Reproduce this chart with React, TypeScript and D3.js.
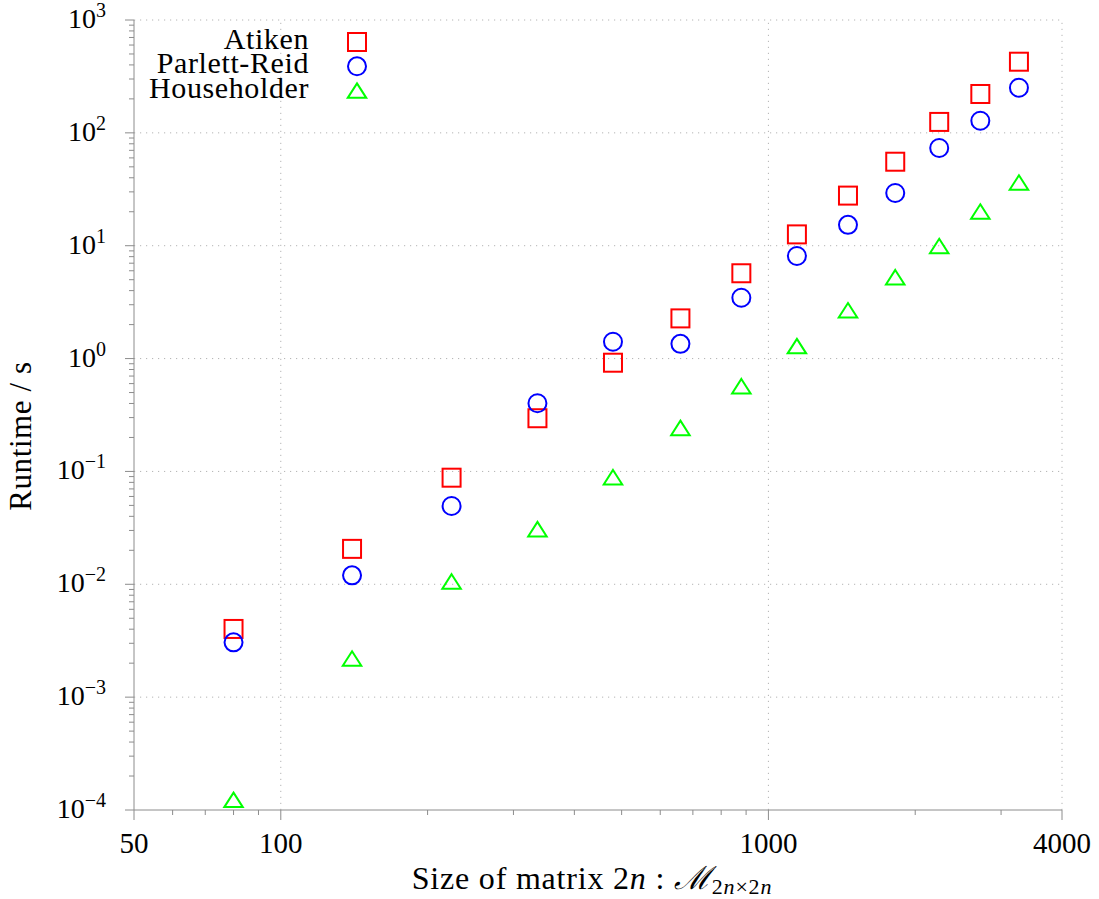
import React from "react";
import * as d3 from "d3";

const sizes = [80, 140, 224, 336, 480, 660, 880, 1144, 1456, 1820, 2240, 2720, 3264];
const atiken = [0.00402, 0.0206, 0.088, 0.296, 0.919, 2.27, 5.70, 12.6, 27.8, 55.5, 125, 221, 427];
const parlettReid = [0.00306, 0.0120, 0.0494, 0.402, 1.41, 1.35, 3.46, 8.11, 15.3, 29.3, 73.4, 128, 251];
const householder = [0.000123, 0.00220, 0.0106, 0.0308, 0.0889, 0.243, 0.569, 1.29, 2.68, 5.26, 9.94, 20.1, 36.3];

const xMajorTicks = [50, 100, 1000, 4000];
const xMinorTicks = [60, 70, 80, 90, 200, 300, 400, 500, 600, 700, 800, 900, 2000, 3000];
const yExponents = [-4, -3, -2, -1, 0, 1, 2, 3];

const seriesNames = ["Atiken", "Parlett-Reid", "Householder"];
const seriesColors = ["#ff0000", "#0000ff", "#00ff00"];
const seriesShapes = ["square", "circle", "triangle"];
const seriesValues = [atiken, parlettReid, householder];

const FONT = "'Liberation Serif', 'Times New Roman', serif";
const AXIS = "#8c8c8c";
const GRID = "#b4b4b4";

function Marker({ shape, cx, cy, color }: { shape: string; cx: number; cy: number; color: string }) {
  const sw = 2;
  if (shape === "square") {
    const s = 18;
    return <rect x={cx - s / 2} y={cy - s / 2} width={s} height={s} fill="none" stroke={color} strokeWidth={sw} />;
  }
  if (shape === "circle") {
    return <circle cx={cx} cy={cy} r={9} fill="none" stroke={color} strokeWidth={sw} />;
  }
  const w = 18.5, h = 14.5;
  const p = `M${cx},${cy - h / 2}L${cx + w / 2},${cy + h / 2}L${cx - w / 2},${cy + h / 2}Z`;
  return <path d={p} fill="none" stroke={color} strokeWidth={sw} strokeLinejoin="miter" />;
}

export default function App() {
  const x = d3.scaleLog().domain([50, 4000]).range([134, 1062]);
  const y = d3.scaleLog().domain([1e-4, 1e3]).range([810, 20]);

  const yMinor: number[] = [];
  for (let e = -4; e < 3; e++) {
    for (let k = 2; k <= 9; k++) yMinor.push(k * Math.pow(10, e));
  }

  const x0 = x.range()[0];
  const x1 = x.range()[1];
  const y0 = y.range()[0];
  const y1 = y.range()[1];

  return (
    <svg
      width={1099}
      height={899}
      style={{ position: "absolute", left: 0, top: 0, background: "#fff" }}
      fontFamily={FONT}
    >
      <rect x={0} y={0} width={1099} height={899} fill="#fff" />
      {/* grid */}
      <g stroke={GRID} strokeWidth={1} strokeDasharray="1.2,4.8" fill="none">
        {yExponents.filter((e) => e > -4).map((e) => (
          <line key={"gy" + e} x1={x0} x2={x1} y1={y(Math.pow(10, e))} y2={y(Math.pow(10, e))} />
        ))}
        {xMajorTicks.filter((v) => v > 50).map((v) => (
          <line key={"gx" + v} x1={x(v)} x2={x(v)} y1={y0} y2={y1} />
        ))}
      </g>
      {/* axes */}
      <g stroke={AXIS} strokeWidth={1} fill="none">
        <line x1={x0} x2={x1} y1={y0} y2={y0} />
        <line x1={x0} x2={x0} y1={y0} y2={y1} />
        {xMajorTicks.map((v) => (
          <line key={"xt" + v} x1={x(v)} x2={x(v)} y1={y0} y2={y0 + 10} />
        ))}
        {xMinorTicks.map((v) => (
          <line key={"xm" + v} x1={x(v)} x2={x(v)} y1={y0} y2={y0 + 5} />
        ))}
        {yExponents.map((e) => (
          <line key={"yt" + e} x1={x0 - 9} x2={x0} y1={y(Math.pow(10, e))} y2={y(Math.pow(10, e))} />
        ))}
        {yMinor.map((v, i) => (
          <line key={"ym" + i} x1={x0 - 5} x2={x0} y1={y(v)} y2={y(v)} />
        ))}
      </g>
      {/* x tick labels */}
      <g fontSize={29} fill="#000" textAnchor="middle">
        {xMajorTicks.map((v) => (
          <text key={"xl" + v} x={x(v)} y={y0 + 43}>
            {String(v)}
          </text>
        ))}
      </g>
      {/* y tick labels */}
      <g fill="#000" textAnchor="end">
        {yExponents.map((e) => (
          <text key={"yl" + e} x={106} y={y(Math.pow(10, e)) + 8} fontSize={28}>
            10
            <tspan fontSize={20} dy={-11}>
              {e < 0 ? "\u2212" + Math.abs(e) : String(e)}
            </tspan>
          </text>
        ))}
      </g>
      {/* axis titles */}
      <text x={592} y={889} fontSize={32} letterSpacing={0.8} textAnchor="middle" fill="#000">
        Size of matrix 2<tspan fontStyle="italic">n</tspan> : <tspan fontStyle="italic">{"\u2133"}</tspan>
        <tspan fontSize={22} dy={5}>
          2<tspan fontStyle="italic">n</tspan>×2<tspan fontStyle="italic">n</tspan>
        </tspan>
      </text>
      <text
        transform="translate(31,436) rotate(-90)"
        fontSize={31}
        letterSpacing={0.6}
        textAnchor="middle"
        fill="#000"
      >
        Runtime / s
      </text>
      {/* data */}
      {seriesValues.map((vals, si) => (
        <g key={"s" + si}>
          {vals.map((v, i) => (
            <Marker
              key={i}
              shape={seriesShapes[si]}
              cx={x(sizes[i])}
              cy={y(v)}
              color={seriesColors[si]}
            />
          ))}
        </g>
      ))}
      {/* legend */}
      {seriesNames.map((n, i) => (
        <g key={"lg" + i}>
          <text x={309} y={49 + i * 24.3} fontSize={30} letterSpacing={0.6} textAnchor="end" fill="#000">
            {n}
          </text>
          <Marker shape={seriesShapes[i]} cx={357} cy={42 + i * 24.3} color={seriesColors[i]} />
        </g>
      ))}
    </svg>
  );
}
